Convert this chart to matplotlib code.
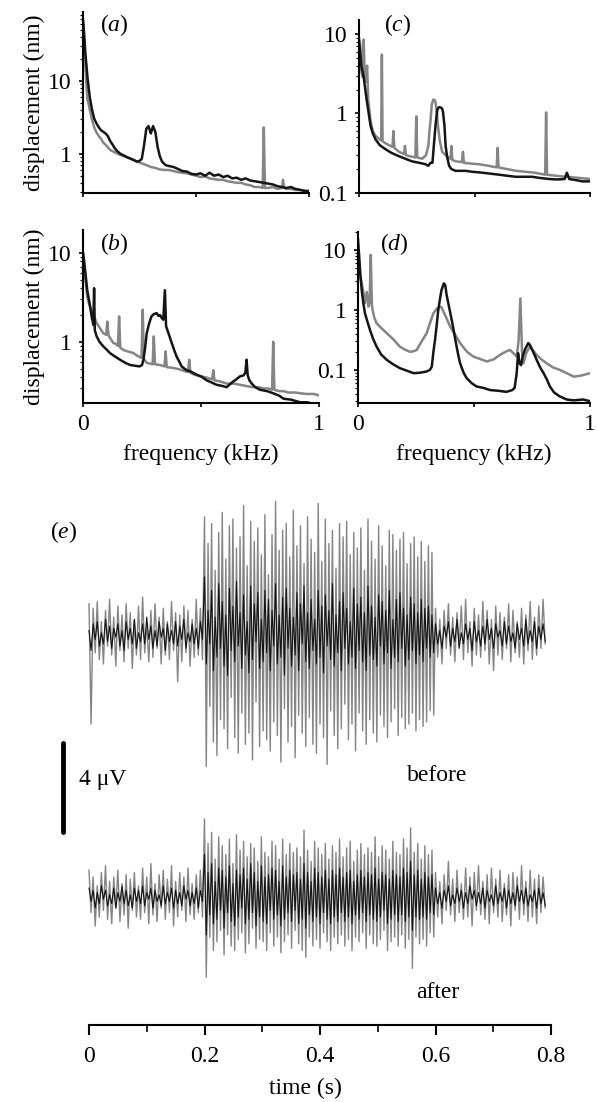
import numpy as np
import matplotlib
matplotlib.use('Agg')
import matplotlib.pyplot as plt
from matplotlib.ticker import FixedLocator, LogLocator, NullFormatter

plt.rcParams['font.family'] = ['Liberation Serif', 'DejaVu Serif']
plt.rcParams['mathtext.fontset'] = 'custom'
plt.rcParams['mathtext.rm'] = 'Liberation Serif'
plt.rcParams['mathtext.it'] = 'Liberation Serif:italic'

GREY = '#858585'
BLACK = '#151515'

# ---- spectra (frequency in kHz, displacement in nm) ----
a_black_f = [0, 0.005, 0.01, 0.02, 0.03, 0.04, 0.05, 0.06, 0.07, 0.08, 0.09, 0.1, 0.11, 0.12, 0.13, 0.14,
             0.15, 0.165, 0.18, 0.195, 0.21, 0.225, 0.24, 0.25, 0.26, 0.27, 0.28, 0.29, 0.3, 0.31, 0.32,
             0.33, 0.34, 0.35, 0.365, 0.38, 0.4, 0.42, 0.44, 0.46, 0.48, 0.5, 0.52, 0.54, 0.56, 0.58, 0.6,
             0.62, 0.64, 0.66, 0.68, 0.7, 0.72, 0.74, 0.76, 0.78, 0.8, 0.82, 0.84, 0.86, 0.88, 0.9, 0.92,
             0.94, 0.96, 0.98, 1.0]
a_black = [70, 45, 25, 11, 6.0, 4.0, 3.0, 2.6, 2.3, 2.1, 2.0, 1.9, 1.75, 1.5, 1.35, 1.2, 1.1, 1.0, 0.95,
           0.9, 0.86, 0.82, 0.78, 0.8, 0.85, 1.3, 2.2, 2.4, 1.9, 2.4, 2.0, 1.25, 0.92, 0.78, 0.7, 0.68,
           0.66, 0.62, 0.58, 0.57, 0.53, 0.52, 0.54, 0.5, 0.55, 0.5, 0.52, 0.48, 0.5, 0.46, 0.47, 0.44,
           0.46, 0.43, 0.42, 0.41, 0.4, 0.39, 0.38, 0.36, 0.35, 0.34, 0.35, 0.33, 0.32, 0.31, 0.31]
a_grey_f = [0, 0.005, 0.01, 0.015, 0.02, 0.025, 0.03, 0.04, 0.05, 0.06, 0.07, 0.08, 0.09, 0.1, 0.12, 0.14,
            0.16, 0.18, 0.2, 0.22, 0.24, 0.26, 0.28, 0.3, 0.32, 0.34, 0.36, 0.38, 0.4, 0.42, 0.44, 0.46,
            0.48, 0.5, 0.52, 0.54, 0.56, 0.58, 0.6, 0.62, 0.64, 0.66, 0.68, 0.7, 0.72, 0.74, 0.76, 0.78,
            0.795, 0.8, 0.805, 0.82, 0.84, 0.86, 0.88, 0.885, 0.89, 0.9, 0.92, 0.94, 0.96, 0.98, 1.0]
a_grey = [55, 35, 18, 9, 5.5, 4.8, 4.0, 2.9, 2.3, 1.95, 1.75, 1.6, 1.42, 1.33, 1.13, 1.05, 0.98, 0.93,
          0.88, 0.83, 0.78, 0.74, 0.7, 0.66, 0.64, 0.61, 0.6, 0.6, 0.58, 0.56, 0.55, 0.54, 0.52, 0.5,
          0.48, 0.49, 0.46, 0.45, 0.44, 0.44, 0.42, 0.41, 0.4, 0.4, 0.38, 0.37, 0.35, 0.35, 0.34, 2.3,
          0.34, 0.34, 0.35, 0.33, 0.34, 0.44, 0.34, 0.33, 0.33, 0.32, 0.32, 0.31, 0.3]

b_black_f = [0, 0.005, 0.01, 0.018, 0.025, 0.03, 0.037, 0.044, 0.047, 0.05, 0.058, 0.07, 0.086, 0.1, 0.114,
             0.13, 0.157, 0.18, 0.2, 0.22, 0.24, 0.25, 0.256, 0.263, 0.27, 0.28, 0.29, 0.3, 0.312, 0.32,
             0.326, 0.334, 0.34, 0.347, 0.352, 0.36, 0.376, 0.387, 0.397, 0.408, 0.418, 0.43, 0.44, 0.46,
             0.48, 0.5, 0.524, 0.545, 0.566, 0.59, 0.609, 0.62, 0.637, 0.65, 0.665, 0.68, 0.688, 0.693,
             0.698, 0.705, 0.715, 0.73, 0.75, 0.78, 0.806, 0.83, 0.85, 0.88, 0.92, 0.95, 0.98, 1.0]
b_black = [10, 8, 6, 3.8, 3.0, 2.5, 1.9, 1.55, 4.0, 1.35, 1.15, 1.0, 0.89, 0.82, 0.75, 0.7, 0.63, 0.58,
           0.55, 0.54, 0.53, 0.55, 0.63, 0.85, 1.25, 1.6, 1.93, 2.05, 2.1, 1.95, 2.0, 1.85, 1.77, 3.8, 1.5,
           1.3, 0.97, 0.8, 0.68, 0.6, 0.53, 0.5, 0.48, 0.46, 0.43, 0.41, 0.37, 0.35, 0.33, 0.32, 0.31,
           0.33, 0.36, 0.38, 0.41, 0.42, 0.45, 0.63, 0.42, 0.37, 0.34, 0.31, 0.29, 0.28, 0.265, 0.25,
           0.23, 0.225, 0.21, 0.21, 0.2, 0.2]
b_grey_f = [0, 0.005, 0.01, 0.018, 0.025, 0.03, 0.04, 0.05, 0.058, 0.07, 0.086, 0.098, 0.103, 0.108, 0.12,
            0.129, 0.14, 0.148, 0.153, 0.158, 0.171, 0.19, 0.213, 0.23, 0.248, 0.253, 0.258, 0.27, 0.285,
            0.295, 0.3, 0.305, 0.326, 0.345, 0.35, 0.355, 0.383, 0.41, 0.43, 0.445, 0.45, 0.455, 0.47,
            0.496, 0.52, 0.547, 0.552, 0.557, 0.58, 0.609, 0.64, 0.665, 0.69, 0.72, 0.745, 0.764, 0.785,
            0.801, 0.806, 0.811, 0.83, 0.85, 0.87, 0.9, 0.92, 0.95, 0.98, 1.0]
b_grey = [10, 7, 5, 3.2, 2.7, 2.5, 2.1, 1.85, 1.62, 1.45, 1.25, 1.2, 1.69, 1.18, 1.05, 0.97, 0.95, 0.9,
          1.93, 0.86, 0.81, 0.78, 0.75, 0.7, 0.66, 2.29, 0.64, 0.58, 0.57, 0.56, 1.15, 0.56, 0.55, 0.53,
          0.78, 0.52, 0.51, 0.49, 0.47, 0.46, 0.63, 0.45, 0.43, 0.41, 0.4, 0.38, 0.48, 0.37, 0.36, 0.34,
          0.34, 0.33, 0.32, 0.31, 0.31, 0.3, 0.3, 0.29, 1.0, 0.29, 0.28, 0.28, 0.27, 0.27, 0.265, 0.26,
          0.26, 0.25]

c_black_f = [0, 0.005, 0.01, 0.02, 0.033, 0.04, 0.05, 0.06, 0.072, 0.09, 0.115, 0.14, 0.173, 0.2, 0.23,
             0.26, 0.288, 0.3, 0.31, 0.318, 0.325, 0.332, 0.339, 0.346, 0.354, 0.36, 0.364, 0.37, 0.375,
             0.382, 0.39, 0.4, 0.418, 0.44, 0.462, 0.49, 0.534, 0.57, 0.606, 0.64, 0.678, 0.71, 0.75, 0.78,
             0.823, 0.86, 0.89, 0.9, 0.91, 0.94, 0.967, 1.0]
c_black = [8, 6, 4, 2.9, 1.5, 1.1, 0.7, 0.56, 0.47, 0.4, 0.355, 0.32, 0.29, 0.27, 0.25, 0.24, 0.23, 0.22,
           0.24, 0.24, 0.43, 0.75, 1.12, 1.2, 1.19, 1.15, 1.03, 0.7, 0.39, 0.28, 0.22, 0.2, 0.19, 0.19,
           0.19, 0.185, 0.18, 0.175, 0.17, 0.165, 0.16, 0.16, 0.16, 0.155, 0.15, 0.148, 0.15, 0.18, 0.15,
           0.145, 0.14, 0.14]
c_grey_f = [0, 0.005, 0.01, 0.015, 0.02, 0.025, 0.03, 0.035, 0.04, 0.045, 0.05, 0.06, 0.072, 0.09, 0.096,
            0.099, 0.102, 0.11, 0.13, 0.145, 0.149, 0.153, 0.173, 0.195, 0.199, 0.203, 0.22, 0.244, 0.248,
            0.252, 0.274, 0.29, 0.3, 0.305, 0.31, 0.315, 0.322, 0.33, 0.336, 0.342, 0.35, 0.36, 0.38,
            0.396, 0.4, 0.404, 0.42, 0.446, 0.45, 0.454, 0.48, 0.52, 0.56, 0.596, 0.6, 0.604, 0.64, 0.68,
            0.72, 0.76, 0.806, 0.81, 0.814, 0.85, 0.9, 0.95, 1.0]
c_grey = [9, 7.5, 3.5, 2.9, 8.5, 3.0, 2.5, 4.0, 1.5, 1.1, 0.8, 0.6, 0.52, 0.47, 0.46, 5.5, 0.45, 0.43, 0.4,
          0.38, 0.6, 0.37, 0.33, 0.31, 0.39, 0.3, 0.29, 0.28, 0.92, 0.28, 0.27, 0.3, 0.39, 0.6, 0.84, 1.3,
          1.5, 1.45, 1.1, 0.69, 0.45, 0.33, 0.29, 0.27, 0.39, 0.26, 0.25, 0.245, 0.33, 0.24, 0.235, 0.23,
          0.22, 0.21, 0.37, 0.21, 0.2, 0.19, 0.185, 0.18, 0.17, 1.03, 0.17, 0.165, 0.16, 0.155, 0.15]

d_black_f = [0, 0.005, 0.01, 0.016, 0.023, 0.03, 0.04, 0.052, 0.065, 0.08, 0.1, 0.124, 0.15, 0.18, 0.21,
             0.24, 0.27, 0.296, 0.31, 0.318, 0.325, 0.332, 0.339, 0.346, 0.353, 0.36, 0.37, 0.376, 0.382,
             0.393, 0.404, 0.415, 0.425, 0.433, 0.44, 0.455, 0.468, 0.49, 0.51, 0.54, 0.57, 0.6, 0.64,
             0.665, 0.675, 0.684, 0.69, 0.696, 0.703, 0.71, 0.72, 0.734, 0.741, 0.755, 0.77, 0.785, 0.8,
             0.815, 0.827, 0.845, 0.87, 0.9, 0.93, 0.97, 1.0]
d_black = [15, 8, 4.0, 2.15, 1.3, 0.88, 0.65, 0.46, 0.33, 0.245, 0.18, 0.147, 0.125, 0.107, 0.097, 0.088,
           0.09, 0.094, 0.1, 0.113, 0.2, 0.316, 0.55, 1.0, 1.5, 2.15, 2.78, 2.6, 1.78, 1.1, 0.68, 0.4,
           0.245, 0.17, 0.129, 0.09, 0.073, 0.06, 0.053, 0.05, 0.046, 0.045, 0.043, 0.046, 0.05, 0.088,
           0.19, 0.13, 0.12, 0.17, 0.22, 0.28, 0.26, 0.2, 0.147, 0.11, 0.088, 0.068, 0.053, 0.042, 0.036,
           0.032, 0.031, 0.032, 0.03]
d_grey_f = [0, 0.005, 0.01, 0.016, 0.023, 0.03, 0.038, 0.045, 0.05, 0.055, 0.06, 0.063, 0.07, 0.08, 0.1,
            0.124, 0.15, 0.18, 0.2, 0.224, 0.24, 0.253, 0.27, 0.296, 0.31, 0.325, 0.34, 0.353, 0.36, 0.368,
            0.38, 0.397, 0.42, 0.44, 0.47, 0.497, 0.53, 0.555, 0.585, 0.612, 0.635, 0.655, 0.67, 0.684,
            0.692, 0.7, 0.707, 0.713, 0.725, 0.741, 0.755, 0.77, 0.79, 0.813, 0.84, 0.87, 0.9, 0.93, 0.96,
            1.0]
d_grey = [10, 4.5, 3.6, 2.8, 2.0, 1.29, 2.0, 1.14, 1.3, 8.3, 1.2, 1.0, 0.75, 0.6, 0.5, 0.41, 0.33, 0.245,
          0.22, 0.2, 0.205, 0.215, 0.28, 0.41, 0.6, 0.88, 1.05, 1.14, 1.1, 0.94, 0.75, 0.53, 0.38, 0.28,
          0.2, 0.167, 0.15, 0.138, 0.15, 0.178, 0.2, 0.215, 0.19, 0.167, 0.3, 1.56, 0.2, 0.129, 0.19,
          0.245, 0.21, 0.178, 0.15, 0.129, 0.11, 0.1, 0.088, 0.077, 0.08, 0.088]

# ---- evoked potentials (microvolts); each trace in three parts:
#      pre-stimulus (0-0.2 s), tone (0.2-0.6 s), post (0.6-0.79 s), evenly sampled
before_grey_pre = [1.4, -4.0, 1.2, -0.8, 1.5, -1.1, 0.6, -1.3, 1.1, -0.5, 1.6, -0.9, 0.8, -1.4, 1.3, -0.7,
                   0.9, -1.2, 1.4, -0.6, 1.0, -1.5, 0.7, -0.9, 1.3, -1.1, 1.7, -0.8, 0.5, -1.2, 1.1, -1.0,
                   1.4, -0.6, 0.8, -1.3, 1.2, -0.9, 0.6, -1.1, 1.5, -0.7, 1.0, -2.1, 0.9, -1.2, 1.3, -0.8,
                   1.1, -1.4, 0.7, -1.0, 1.6, -0.9, 1.2, -1.1]
before_grey_tone = [5.3, -5.9, 4.1, -3.2, 5.0, -4.8, 2.9, -5.4, 4.6, -3.8, 5.5, -4.2, 3.4, -5.1, 4.9, -2.8,
                    5.2, -4.6, 3.9, -5.3, 4.4, -3.5, 5.8, -4.9, 3.1, -4.4, 5.1, -5.6, 4.2, -3.0, 4.8, -5.0,
                    3.6, -4.3, 5.4, -4.7, 2.7, -5.2, 4.5, -3.9, 6.0, -4.5, 3.8, -5.7, 4.7, -3.3, 5.0, -4.8,
                    3.5, -4.1, 5.6, -5.5, 4.0, -3.6, 4.9, -4.4, 3.2, -5.0, 5.3, -3.7, 4.3, -4.9, 3.7, -5.3,
                    5.9, -4.0, 3.3, -4.6, 5.2, -5.8, 4.1, -3.4, 4.7, -4.5, 3.0, -5.1, 5.0, -4.2, 4.4, -3.1,
                    5.1, -4.7, 3.6, -4.0, 4.6, -5.2, 3.9, -3.5, 4.8, -4.3, 2.9, -4.9, 5.2, -3.8, 4.2, -4.4,
                    3.4, -4.8, 4.9, -3.6, 4.0, -4.1, 3.1, -4.6, 4.7, -3.9, 4.5, -3.3, 3.8, -4.5, 4.3, -3.7,
                    4.6, -4.2, 3.2, -4.0, 4.1, -3.5, 4.4, -4.3, 3.5, -3.8, 4.2, -4.1, 3.3, -3.9, 4.0, -3.4,
                    3.7, -3.6]
before_grey_post = [1.2, -1.0, 0.7, -1.3, 1.1, -0.6, 1.4, -0.9, 0.8, -1.2, 1.0, -0.5, 1.3, -1.1, 1.6, -0.8,
                    0.6, -1.4, 1.2, -0.9, 0.9, -1.0, 1.5, -0.7, 1.1, -1.3, 0.7, -1.6, 1.3, -0.9, 1.0, -1.1,
                    0.8, -0.6, 1.4, -1.2, 1.1, -0.8, 0.6, -1.0, 1.2, -1.3, 0.9, -0.7, 1.5, -1.1, 0.8, -0.9,
                    1.3, -0.6, 1.6, -0.4]
before_black_pre = [0.2, -0.7, 0.5, -0.2, 0.6, -0.5, 0.1, -0.4, 0.7, -0.3, 0.4, -0.6, 0.3, -0.1, 0.5, -0.5,
                    0.2, -0.7, 0.6, -0.2, 0.3, -0.4, 0.7, -0.6, 0.1, -0.3, 0.5, -0.4, 0.8, -0.2, 0.4, -0.6,
                    0.2, -0.5, 0.6, -0.1, 0.3, -0.7, 0.5, -0.3, 0.2, -0.4, 0.6, -0.5, 0.4, -0.2, 0.7, -0.6,
                    0.1, -0.3, 0.5, -0.4, 0.3, -0.6, 0.6, -0.2]
before_black_tone = [2.6, -1.3, 1.1, -0.4, 2.0, -1.6, 0.8, -1.0, 2.3, -0.6, 1.5, -1.4, 0.9, -1.8, 2.1, -0.7,
                     1.3, -1.2, 2.4, -0.5, 1.0, -1.5, 1.8, -0.9, 0.6, -1.7, 2.2, -1.1, 1.4, -0.3, 1.9, -1.5,
                     0.7, -1.2, 2.0, -0.8, 1.6, -1.6, 1.1, -0.5, 2.3, -1.3, 0.9, -1.0, 1.7, -1.8, 2.1, -0.6,
                     1.2, -1.4, 0.8, -0.9, 1.9, -1.6, 1.4, -0.4, 2.2, -1.2, 1.0, -1.5, 1.6, -0.7, 0.7, -1.3,
                     2.0, -1.0, 1.3, -1.7, 1.8, -0.5, 1.1, -1.1, 2.3, -1.4, 0.9, -0.8, 1.5, -1.6, 1.9, -0.6,
                     1.2, -1.3, 0.6, -1.0, 2.1, -1.5, 1.4, -0.7, 1.7, -1.2, 1.0, -1.6, 2.2, -0.9, 1.3, -1.1,
                     0.8, -1.4, 1.8, -0.5, 1.5, -1.3, 1.1, -0.8, 2.0, -1.5, 0.7, -1.0, 1.6, -1.2, 1.9, -0.6,
                     1.2, -1.4, 0.9, -1.1, 1.7, -0.7, 1.4, -1.3, 1.0, -0.9, 1.6, -1.2, 1.2, -0.6, 1.3, -1.0,
                     0.9, -0.8]
before_black_post = [0.5, -0.4, 0.2, -0.6, 0.4, -0.1, 0.6, -0.5, 0.3, -0.3, 0.7, -0.6, 0.1, -0.4, 0.5, -0.2,
                     0.3, -0.7, 0.6, -0.3, 0.2, -0.5, 0.4, -0.4, 0.7, -0.2, 0.3, -0.6, 0.5, -0.1, 0.2, -0.5,
                     0.6, -0.4, 0.4, -0.3, 0.1, -0.6, 0.5, -0.2, 0.3, -0.5, 0.7, -0.4, 0.2, -0.3, 0.6, -0.6,
                     0.4, -0.2, 0.5, -0.3]
after_grey_pre = [1.2, -0.7, 0.9, -1.3, 0.5, -0.9, 1.1, -0.6, 1.4, -1.0, 0.7, -1.2, 0.9, -0.5, 1.2, -1.1,
                  0.6, -0.8, 1.0, -1.4, 0.8, -0.6, 1.1, -0.9, 0.5, -1.0, 1.3, -0.7, 0.9, -1.2, 1.5, -0.8,
                  0.6, -1.1, 1.0, -0.5, 1.2, -1.0, 0.8, -0.7, 1.4, -1.3, 0.7, -0.9, 1.1, -0.6, 0.9, -1.1,
                  1.3, -0.8, 0.6, -1.0, 1.0, -0.7, 1.2, -0.9]
after_grey_tone = [3.5, -3.6, 2.4, -1.8, 2.9, -2.4, 1.7, -2.0, 2.7, -1.5, 2.3, -2.6, 1.9, -1.7, 2.6, -2.2,
                   1.5, -2.4, 2.8, -1.9, 2.1, -1.6, 2.5, -2.5, 1.8, -2.1, 2.4, -1.4, 2.2, -2.3, 1.6, -1.9,
                   2.7, -2.0, 2.0, -2.4, 1.8, -1.6, 2.5, -2.2, 2.3, -1.8, 1.7, -2.5, 2.6, -2.0, 1.9, -1.7,
                   2.4, -2.3, 2.0, -1.5, 2.2, -2.1, 1.8, -2.4, 3.0, -2.7, 2.1, -1.8, 1.6, -2.2, 2.5, -1.9,
                   2.2, -2.3, 1.9, -1.6, 2.4, -2.0, 1.7, -2.4, 2.3, -1.8, 2.0, -2.1, 2.6, -1.7, 1.8, -2.2,
                   2.2, -1.9, 2.5, -2.4, 1.6, -1.8, 2.1, -2.0, 2.4, -1.6, 1.9, -2.3, 2.2, -1.7, 2.0, -2.1,
                   2.7, -2.2, 1.8, -1.9, 2.3, -1.5, 2.1, -2.4, 1.7, -2.0, 2.5, -1.8, 2.0, -2.2, 1.9, -1.7,
                   2.6, -2.3, 2.2, -1.9, 3.1, -3.2, 2.0, -1.8, 2.4, -2.1, 1.7, -1.9, 2.3, -2.2, 1.9, -1.6,
                   2.1, -1.8]
after_grey_post = [1.1, -0.9, 0.7, -1.2, 1.0, -0.6, 1.6, -0.8, 0.8, -1.1, 1.2, -0.7, 0.6, -1.0, 1.3, -0.9,
                   0.9, -1.3, 1.1, -0.6, 1.4, -0.8, 0.7, -1.0, 1.0, -1.2, 1.3, -0.7, 0.8, -0.9, 1.2, -1.1,
                   0.6, -0.8, 1.0, -1.3, 1.1, -0.6, 0.9, -1.0, 1.4, -0.8, 0.7, -1.1, 1.2, -0.9, 0.8, -1.2,
                   1.0, -0.7, 0.9, -0.5]
after_black_pre = [0.4, -0.2, 0.3, -0.5, 0.2, -0.3, 0.5, -0.1, 0.3, -0.4, 0.1, -0.3, 0.4, -0.5, 0.2, -0.2,
                   0.5, -0.3, 0.3, -0.4, 0.1, -0.5, 0.4, -0.2, 0.3, -0.3, 0.5, -0.4, 0.2, -0.1, 0.4, -0.5,
                   0.3, -0.2, 0.1, -0.4, 0.5, -0.3, 0.2, -0.2, 0.4, -0.5, 0.3, -0.3, 0.2, -0.4, 0.5, -0.1,
                   0.3, -0.4, 0.2, -0.3, 0.4, -0.5, 0.3, -0.2]
after_black_tone = [1.9, -1.7, 1.1, -0.8, 1.5, -1.2, 0.7, -1.0, 1.3, -0.6, 1.2, -1.4, 0.9, -0.7, 1.4, -1.1,
                    0.6, -1.3, 1.2, -0.9, 1.0, -0.5, 1.3, -1.2, 0.8, -1.0, 1.5, -0.7, 1.1, -1.3, 0.7, -0.9,
                    1.4, -1.1, 0.9, -1.2, 1.0, -0.6, 1.3, -1.0, 1.2, -0.8, 0.7, -1.3, 1.4, -1.0, 0.9, -0.7,
                    1.2, -1.1, 1.0, -0.6, 1.1, -1.2, 0.8, -1.0, 1.5, -1.4, 1.1, -0.8, 0.7, -1.1, 1.3, -0.9,
                    1.1, -1.2, 0.9, -0.7, 1.2, -1.0, 0.8, -1.2, 1.2, -0.9, 1.0, -1.1, 1.3, -0.7, 0.9, -1.1,
                    1.1, -0.9, 1.2, -1.2, 0.7, -0.8, 1.0, -1.0, 1.2, -0.7, 0.9, -1.1, 1.1, -0.8, 1.0, -1.0,
                    1.3, -1.1, 0.8, -0.9, 1.1, -0.6, 1.0, -1.2, 0.8, -1.0, 1.2, -0.8, 1.0, -1.1, 0.9, -0.8,
                    1.3, -1.1, 1.1, -0.9, 1.6, -1.5, 1.0, -0.9, 1.2, -1.0, 0.8, -0.9, 1.1, -1.0, 0.9, -0.7,
                    1.0, -0.8]
after_black_post = [0.4, -0.3, 0.2, -0.5, 0.3, -0.2, 0.5, -0.4, 0.1, -0.3, 0.4, -0.2, 0.3, -0.5, 0.2, -0.3,
                    0.5, -0.1, 0.3, -0.4, 0.2, -0.3, 0.4, -0.5, 0.3, -0.2, 0.1, -0.4, 0.5, -0.3, 0.2, -0.2,
                    0.4, -0.5, 0.3, -0.3, 0.2, -0.4, 0.5, -0.2, 0.3, -0.3, 0.4, -0.4, 0.1, -0.2, 0.3, -0.5,
                    0.4, -0.3, 0.2, -0.4]

time_ticks = [0, 0.2, 0.4, 0.6, 0.8]

W, H = 597, 1102
fig = plt.figure(figsize=(W / 100, H / 100), dpi=100)


def box(left, right, top, bottom):
    return [left / W, 1 - bottom / H, (right - left) / W, (bottom - top) / H]


def spectrum(rect, black, grey, ylim, yticks, xlabels):
    ax = fig.add_axes(rect)
    ax.plot(grey[0], grey[1], color=GREY, lw=1.8)
    ax.plot(black[0], black[1], color=BLACK, lw=1.8)
    ax.set_yscale('log')
    ax.set_xlim(0, 1)
    ax.set_ylim(*ylim)
    for s in ['top', 'right']:
        ax.spines[s].set_visible(False)
    for s in ['left', 'bottom']:
        ax.spines[s].set_linewidth(1.5)
    ax.yaxis.set_major_locator(FixedLocator(yticks))
    ax.set_yticklabels([('%g' % v) for v in yticks])
    ax.yaxis.set_minor_locator(LogLocator(base=10, subs=np.arange(2, 10)))
    ax.yaxis.set_minor_formatter(NullFormatter())
    ax.set_xticks([0, 0.5, 1])
    if xlabels:
        ax.set_xticklabels(['0', '', '1'])
        ax.set_xlabel('frequency (kHz)', fontsize=17, labelpad=6)
    else:
        ax.set_xticklabels([])
    ax.tick_params(axis='both', which='major', direction='out', length=3, width=1.2,
                   labelsize=17, pad=5)
    ax.tick_params(axis='y', which='minor', direction='out', length=2, width=0.8)
    return ax


ax_a = spectrum(box(83, 309, 12, 193), (a_black_f, a_black), (a_grey_f, a_grey),
                (0.29, 88), [1, 10], False)
ax_a.set_ylabel('displacement (nm)', fontsize=17, labelpad=2)
ax_c = spectrum(box(359, 590, 20, 193), (c_black_f, c_black), (c_grey_f, c_grey),
                (0.1, 15), [0.1, 1, 10], False)
ax_b = spectrum(box(83, 319, 230, 403), (b_black_f, b_black), (b_grey_f, b_grey),
                (0.206, 18), [1, 10], True)
ax_b.set_ylabel('displacement (nm)', fontsize=17, labelpad=2)
ax_d = spectrum(box(358, 590, 232, 403), (d_black_f, d_black), (d_grey_f, d_grey),
                (0.028, 20), [0.1, 1, 10], True)

for lab, x, y in [('a', 100, 25), ('c', 384, 25), ('b', 100, 244), ('d', 380, 244)]:
    fig.text(x / W, 1 - y / H, r'$(\mathit{%s})$' % lab, fontsize=17, va='center', ha='left')

# ---- panel e ----
ax_e = fig.add_axes(box(40, 570, 480, 1025))
px_per_s = 462 / 0.8
ax_e.set_xlim(-49 / px_per_s, 0.8 + 19 / px_per_s)
ax_e.set_ylim(0, 545 / 22.3)
before_base = (1025 - 635) / 22.3
after_base = (1025 - 897) / 22.3

traces = [((before_grey_pre, before_grey_tone, before_grey_post), before_base, GREY, 1.0),
          ((before_black_pre, before_black_tone, before_black_post), before_base, BLACK, 0.8),
          ((after_grey_pre, after_grey_tone, after_grey_post), after_base, GREY, 1.0),
          ((after_black_pre, after_black_tone, after_black_post), after_base, BLACK, 0.8)]
for (pre, tone, post), base, col, lw in traces:
    t = np.concatenate([np.linspace(0, 0.2, len(pre), endpoint=False),
                        np.linspace(0.2, 0.6, len(tone), endpoint=False),
                        np.linspace(0.6, 0.79, len(post))])
    v = np.concatenate([pre, tone, post])
    ax_e.plot(t, base + v, color=col, lw=lw)

for s in ['top', 'right', 'left']:
    ax_e.spines[s].set_visible(False)
ax_e.spines['bottom'].set_linewidth(1.5)
ax_e.spines['bottom'].set_bounds(0, 0.8)
ax_e.set_yticks([])
ax_e.set_xticks(time_ticks)
ax_e.set_xticklabels(['%g' % v for v in time_ticks])
ax_e.set_xticks([0.1, 0.3, 0.5, 0.7], minor=True)
ax_e.tick_params(axis='x', which='major', direction='out', length=7, width=1.5, labelsize=17, pad=8)
ax_e.tick_params(axis='x', which='minor', direction='out', length=5, width=1.2)
ax_e.set_xlabel('time (s)', fontsize=17, labelpad=8)

# 4 uV scale bar
bar_x = (63 - 89) / px_per_s
ax_e.plot([bar_x, bar_x], [(1025 - 832) / 22.3, (1025 - 832) / 22.3 + 4], color='black',
          lw=3.5, solid_capstyle='round', clip_on=False)
ax_e.text((79 - 89) / px_per_s, (1025 - 780) / 22.3, '4 \u03bcV', fontsize=17, va='center', ha='left')
ax_e.text((437 - 89) / px_per_s, (1025 - 775) / 22.3, 'before', fontsize=17, va='center', ha='center')
ax_e.text((438 - 89) / px_per_s, (1025 - 992) / 22.3, 'after', fontsize=17, va='center', ha='center')
ax_e.text((50 - 89) / px_per_s, (1025 - 532) / 22.3, r'$(\mathit{e})$', fontsize=17,
          va='center', ha='left')

fig.savefig('out.png', dpi=100)
